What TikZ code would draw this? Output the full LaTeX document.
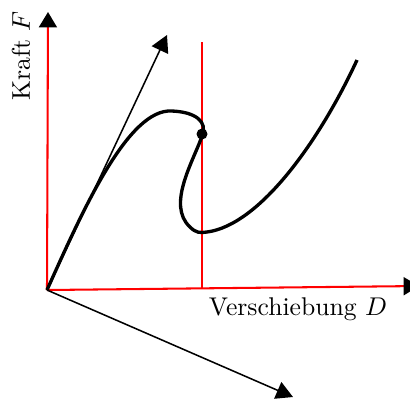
\documentclass[tikz,border=0pt]{standalone}
\usetikzlibrary{arrows.meta}
\begin{document}
\begin{tikzpicture}[x=0.39pt,y=-0.39pt,
  axis/.style={red,thick,-{Triangle[length=6pt,width=7pt,color=black]}},
  vec/.style={black,semithick,-{Triangle[length=6.5pt,width=7pt]}},
  curve/.style={black,line width=1.3pt},
  marker/.style={red,thick}]
\useasboundingbox (0,0) rectangle (410,401);
\coordinate (O) at (47,290);
\coordinate (Ftip) at (48,12);
\coordinate (Dtip) at (419,286);
\coordinate (v1) at (167,35);
\coordinate (v2) at (293,397);
\coordinate (mtop) at (202,42);
\coordinate (mbot) at (202,288);
\coordinate (dot) at (202,134);
\draw[axis] (O) -- (Ftip);
\draw[axis] (O) -- (Dtip);
\draw[marker] (mtop) -- (mbot);
\draw[vec] (O) -- (v1);
\draw[vec] (O) -- (v2);
\draw[curve] (O) .. controls (82,212) and (128,108) .. (172,111)
  .. controls (196,112) and (208,122) .. (202,136)
  .. controls (194,160) and (166,205) .. (190,227)
  .. controls (196,233) and (200,233) .. (207,232)
  .. controls (260,225) and (320,140) .. (357,60);
\fill (dot) circle (5.5);
\node[rotate=90] (F) at (21,56) {Kraft $F$};
\node (D) at (298,309) {Verschiebung $D$};
\end{tikzpicture}
\end{document}
